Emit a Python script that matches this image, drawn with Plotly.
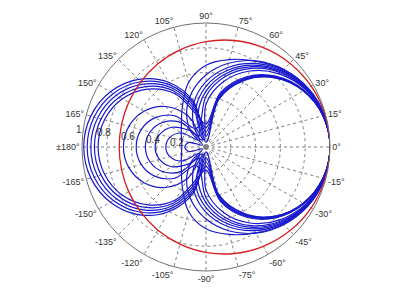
import math
import plotly.graph_objects as go

# angles (deg) for the half pattern 0..180; patterns are symmetric about 0°
angles_half = [0, 15, 30, 45, 60, 75, 90, 105, 120, 135, 150, 165, 180]

# blue family (magnitude, 0..180 deg)
blue_01 = [1, .976, .905, .787, .620, .396, .040, .375, .603, .771, .890, .962, .986]
blue_02 = [1, .977, .907, .791, .628, .411, .086, .348, .576, .744, .863, .934, .958]
blue_03 = [1, .977, .909, .796, .637, .426, .123, .319, .549, .717, .835, .905, .929]
blue_04 = [1, .978, .911, .800, .645, .441, .155, .290, .522, .689, .806, .876, .900]
blue_05 = [1, .978, .913, .805, .654, .456, .185, .259, .494, .661, .778, .847, .870]
blue_06 = [1, .981, .926, .834, .708, .547, .346, .060, .289, .462, .577, .644, .666]
blue_07 = [1, .983, .931, .847, .732, .586, .410, .191, .171, .356, .473, .541, .563]
blue_08 = [1, .984, .935, .856, .748, .612, .450, .258, .065, .278, .399, .467, .489]
blue_09 = [1, .985, .939, .865, .763, .637, .489, .318, .105, .189, .318, .388, .410]
blue_10 = [1, .986, .943, .874, .779, .662, .527, .373, .200, .074, .226, .301, .324]
blue_11 = [1, .987, .949, .886, .802, .699, .581, .451, .313, .168, .033, .142, .171]
blue_12 = [1, .990, .950, .880, .800, .730, .660, .540, .380, .280, .230, .205, .195]

# red reference pattern
red_curve = [1, .995, .980, .956, .925, .889, .850, .811, .775, .744, .720, .705, .700]

radial_ticks = [0.2, 0.4, 0.6, 0.8, 1.0]
radial_labels = ["0.2", "0.4", "0.6", "0.8", "1"]
angular_ticks = list(range(0, 360, 15))
angular_labels = ["0°", "15°", "30°", "45°", "60°", "75°", "90°", "105°", "120°",
                  "135°", "150°", "165°", "±180°", "-165°", "-150°", "-135°",
                  "-120°", "-105°", "-90°", "-75°", "-60°", "-45°", "-30°", "-15°"]

blue_curves = [blue_01, blue_02, blue_03, blue_04, blue_05, blue_06,
               blue_07, blue_08, blue_09, blue_10, blue_11, blue_12]


def full(half):
    th = angles_half + [360 - a for a in angles_half[-2::-1]]
    r = half + half[-2::-1]
    return th, r


fig = go.Figure()
BLUE = "rgb(25,25,205)"
RED = "rgb(215,30,30)"
for c in blue_curves:
    th, r = full(c)
    fig.add_trace(go.Scatterpolar(r=r, theta=th, mode="lines",
                                  line=dict(color=BLUE, width=1.2, shape="spline", smoothing=1.0),
                                  hoverinfo="skip", showlegend=False))
th, r = full(red_curve)
fig.add_trace(go.Scatterpolar(r=r, theta=th, mode="lines",
                              line=dict(color=RED, width=1.3, shape="spline", smoothing=1.0),
                              hoverinfo="skip", showlegend=False))

W, H = 400, 306
cx, cy, R = 206, 147, 124
LABEL_ANGLE = 172  # direction along which the radial labels sit

annotations = []
for v, t in zip(radial_ticks, radial_labels):
    rp = v * R + 4
    px = cx + rp * math.cos(math.radians(LABEL_ANGLE))
    py = cy - rp * math.sin(math.radians(LABEL_ANGLE))
    annotations.append(dict(x=px / W, y=1 - py / H, xref="paper", yref="paper",
                            text=t, showarrow=False, xanchor="center", yanchor="middle",
                            font=dict(size=10, color="#333")))

fig.update_layout(
    width=W, height=H,
    margin=dict(l=0, r=0, t=0, b=0),
    paper_bgcolor="white",
    font=dict(family="Liberation Sans, Arial, sans-serif", size=9, color="#333"),
    annotations=annotations,
    polar=dict(
        domain=dict(x=[(cx - R) / W, (cx + R) / W], y=[1 - (cy + R) / H, 1 - (cy - R) / H]),
        bgcolor="white",
        radialaxis=dict(range=[0, 1], tickvals=radial_ticks, showticklabels=False,
                        angle=LABEL_ANGLE, showline=False, ticks="",
                        gridcolor="#808080", griddash="dot", gridwidth=0.7),
        angularaxis=dict(rotation=0, direction="counterclockwise",
                         tickvals=angular_ticks, ticktext=angular_labels,
                         showline=True, linecolor="#707070", linewidth=1,
                         ticks="", gridcolor="#808080", griddash="dot", gridwidth=0.7,
                         tickfont=dict(size=9, color="#333")),
    ),
)

fig.write_html("out.html")
